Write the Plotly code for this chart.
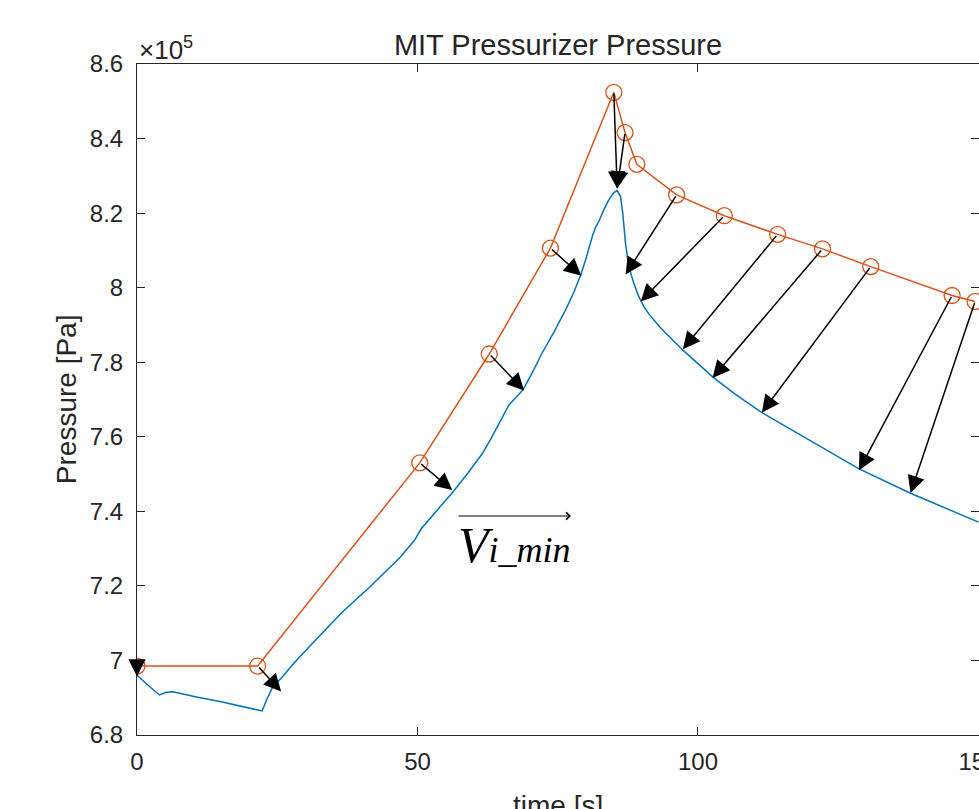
import plotly.graph_objects as go

# ---------------- data ----------------
t_sim = [0, 1.0, 2.0, 3.0, 4.0, 4.6, 5.2, 6.4, 8.0, 10.6, 15.0, 20.0, 22.3, 23.2, 24.2,
         25.7, 28.0, 30.7, 33.5, 36.1, 36.4, 39.0, 41.5, 44.0, 46.8, 49.5, 50.6, 53.5,
         56.2, 59.0, 61.6, 63.2, 64.5, 65.7, 66.3, 67.5, 68.8, 70.5, 72.2, 74.3, 76.4,
         77.8, 79.1, 80.0, 80.6, 81.2, 81.8, 82.3, 83.2, 84.1, 85.0, 85.6, 86.2, 86.6,
         87.08, 87.67, 88.56, 89.45, 90.34, 91.23, 93.36, 97.28, 102.61, 106.5, 111.39,
         120.0, 128.72, 137.9, 148.17, 150.0]
p_sim = [696000, 694600, 693400, 692000, 690730, 691100, 691460, 691600, 691000, 690200,
         688900, 687300, 686440, 689800, 692900, 695200, 699300, 703700, 708100, 712200,
         712650, 716300, 719700, 723400, 727490, 732300, 735190, 740300, 745000, 750300,
         755580, 759800, 763630, 767200, 768540, 770500, 772570, 777300, 782410, 788000,
         794030, 798500, 803420, 807600, 811000, 813900, 816400, 817700, 820800, 823550,
         825500, 826045, 824440, 819970, 811930, 805650, 801190, 797600, 794970, 792960,
         789200, 783300, 776060, 771600, 766480, 758980, 751370, 744850, 738140, 737100]

t_pts = [0, 21.5, 50.4, 62.8, 73.7, 85.0, 87.0, 89.1, 96.2, 104.7, 114.2, 122.2, 130.8, 145.3, 149.4]
p_pts = [698500, 698500, 753000, 782200, 810600, 852400, 841600, 833100, 824900, 819300,
         814300, 810400, 805650, 797900, 796300]

# arrows: start at orange point (index), end on the blue curve
arrow_src = [0, 1, 2, 3, 4, 5, 6, 8, 9, 10, 11, 12, 13, 14]
arrow_t_end = [0, 25.7, 56.2, 69.0, 79.2, 85.6, 85.6, 87.1, 89.8, 97.3, 102.6, 111.4, 128.7, 137.9]
arrow_p_end = [695700, 691700, 745700, 772400, 803200, 826600, 826600, 803500, 796300,
               783500, 775800, 766500, 751000, 744900]

x_ticks = [0, 50, 100, 150]
y_ticks = [680000, 700000, 720000, 740000, 760000, 780000, 800000, 820000, 840000, 860000]
y_tick_text = ["6.8", "7", "7.2", "7.4", "7.6", "7.8", "8", "8.2", "8.4", "8.6"]

BLUE = "#0072BD"
ORANGE = "#D95319"
AX = "#262626"
FONT = "Liberation Sans, Arial, sans-serif"

fig = go.Figure()
fig.add_trace(go.Scatter(x=t_sim, y=p_sim, mode="lines",
                         line=dict(color=BLUE, width=1.5), showlegend=False))
fig.add_trace(go.Scatter(x=t_pts, y=p_pts, mode="lines+markers",
                         line=dict(color=ORANGE, width=1.5),
                         marker=dict(symbol="circle-open", size=16, color=ORANGE,
                                     line=dict(width=1.3, color=ORANGE)),
                         showlegend=False))

annotations = []
for i, k in enumerate(arrow_src):
    annotations.append(dict(
        x=arrow_t_end[i], y=arrow_p_end[i], xref="x", yref="y",
        ax=t_pts[k], ay=p_pts[k], axref="x", ayref="y",
        text="", showarrow=True, arrowhead=2, arrowsize=2.3, arrowwidth=1.5,
        arrowcolor="black", standoff=0, startstandoff=0))

# x10^5 exponent label
annotations.append(dict(x=0, y=1, xref="paper", yref="paper", xanchor="left", yanchor="bottom",
                        yshift=-3, text="×10<sup>5</sup>", showarrow=False,
                        font=dict(family=FONT, size=26, color=AX)))
# axis titles
annotations.append(dict(x=-0.0835, y=0.5, xref="paper", yref="paper", xanchor="center",
                        yanchor="middle", textangle=-90, text="Pressure [Pa]", showarrow=False,
                        font=dict(family=FONT, size=28, color=AX)))
annotations.append(dict(x=0.5, y=-0.079, xref="paper", yref="paper", xanchor="center",
                        yanchor="top", text="time [s]", showarrow=False,
                        font=dict(family=FONT, size=28, color=AX)))
# vector label with over-arrow
annotations.append(dict(x=0.3789, y=0.283, xref="paper", yref="paper", xanchor="left",
                        yanchor="middle",
                        text="<i>V</i><span style='font-size:36px'><i>i_min</i></span>",
                        showarrow=False,
                        font=dict(family="Liberation Serif, Times New Roman, serif", size=50,
                                  color="black")))
annotations.append(dict(x=0.5154, y=0.3264, xref="paper", yref="paper", ax=-114, ay=0,
                        text="", showarrow=True, arrowhead=4, arrowsize=1.2, arrowwidth=1.2,
                        arrowcolor="black", standoff=0, startstandoff=0))

fig.update_layout(
    width=979, height=809,
    margin=dict(l=137, r=0, t=64, b=74),
    paper_bgcolor="white", plot_bgcolor="white",
    font=dict(family=FONT, color=AX),
    title=dict(text="MIT Pressurizer Pressure", x=0.5, xref="paper", xanchor="center",
               y=1 - 45 / 809, yref="container", yanchor="middle",
               font=dict(family=FONT, size=29, color=AX)),
    annotations=annotations,
    xaxis=dict(range=[0, 150.1], tickvals=x_ticks, showgrid=False, zeroline=False,
               automargin=False, ticklabeloverflow="allow",
               showline=True, linecolor=AX, linewidth=1, mirror="ticks",
               ticks="inside", ticklen=8, tickwidth=1, tickcolor=AX, ticklabelstandoff=5,
               tickfont=dict(family=FONT, size=24, color=AX)),
    yaxis=dict(range=[680000, 860000], tickvals=y_ticks, ticktext=y_tick_text,
               showgrid=False, zeroline=False, automargin=False,
               showline=True, linecolor=AX, linewidth=1, mirror="ticks",
               ticks="inside", ticklen=8, tickwidth=1, tickcolor=AX, ticklabelstandoff=8,
               tickfont=dict(family=FONT, size=24, color=AX)),
)

# remove the default page margin so the 979x809 figure fills the window exactly
fig.write_html("out.html", config={"displayModeBar": False},
               post_script="document.body.style.margin='0';document.body.style.overflow='hidden';")
